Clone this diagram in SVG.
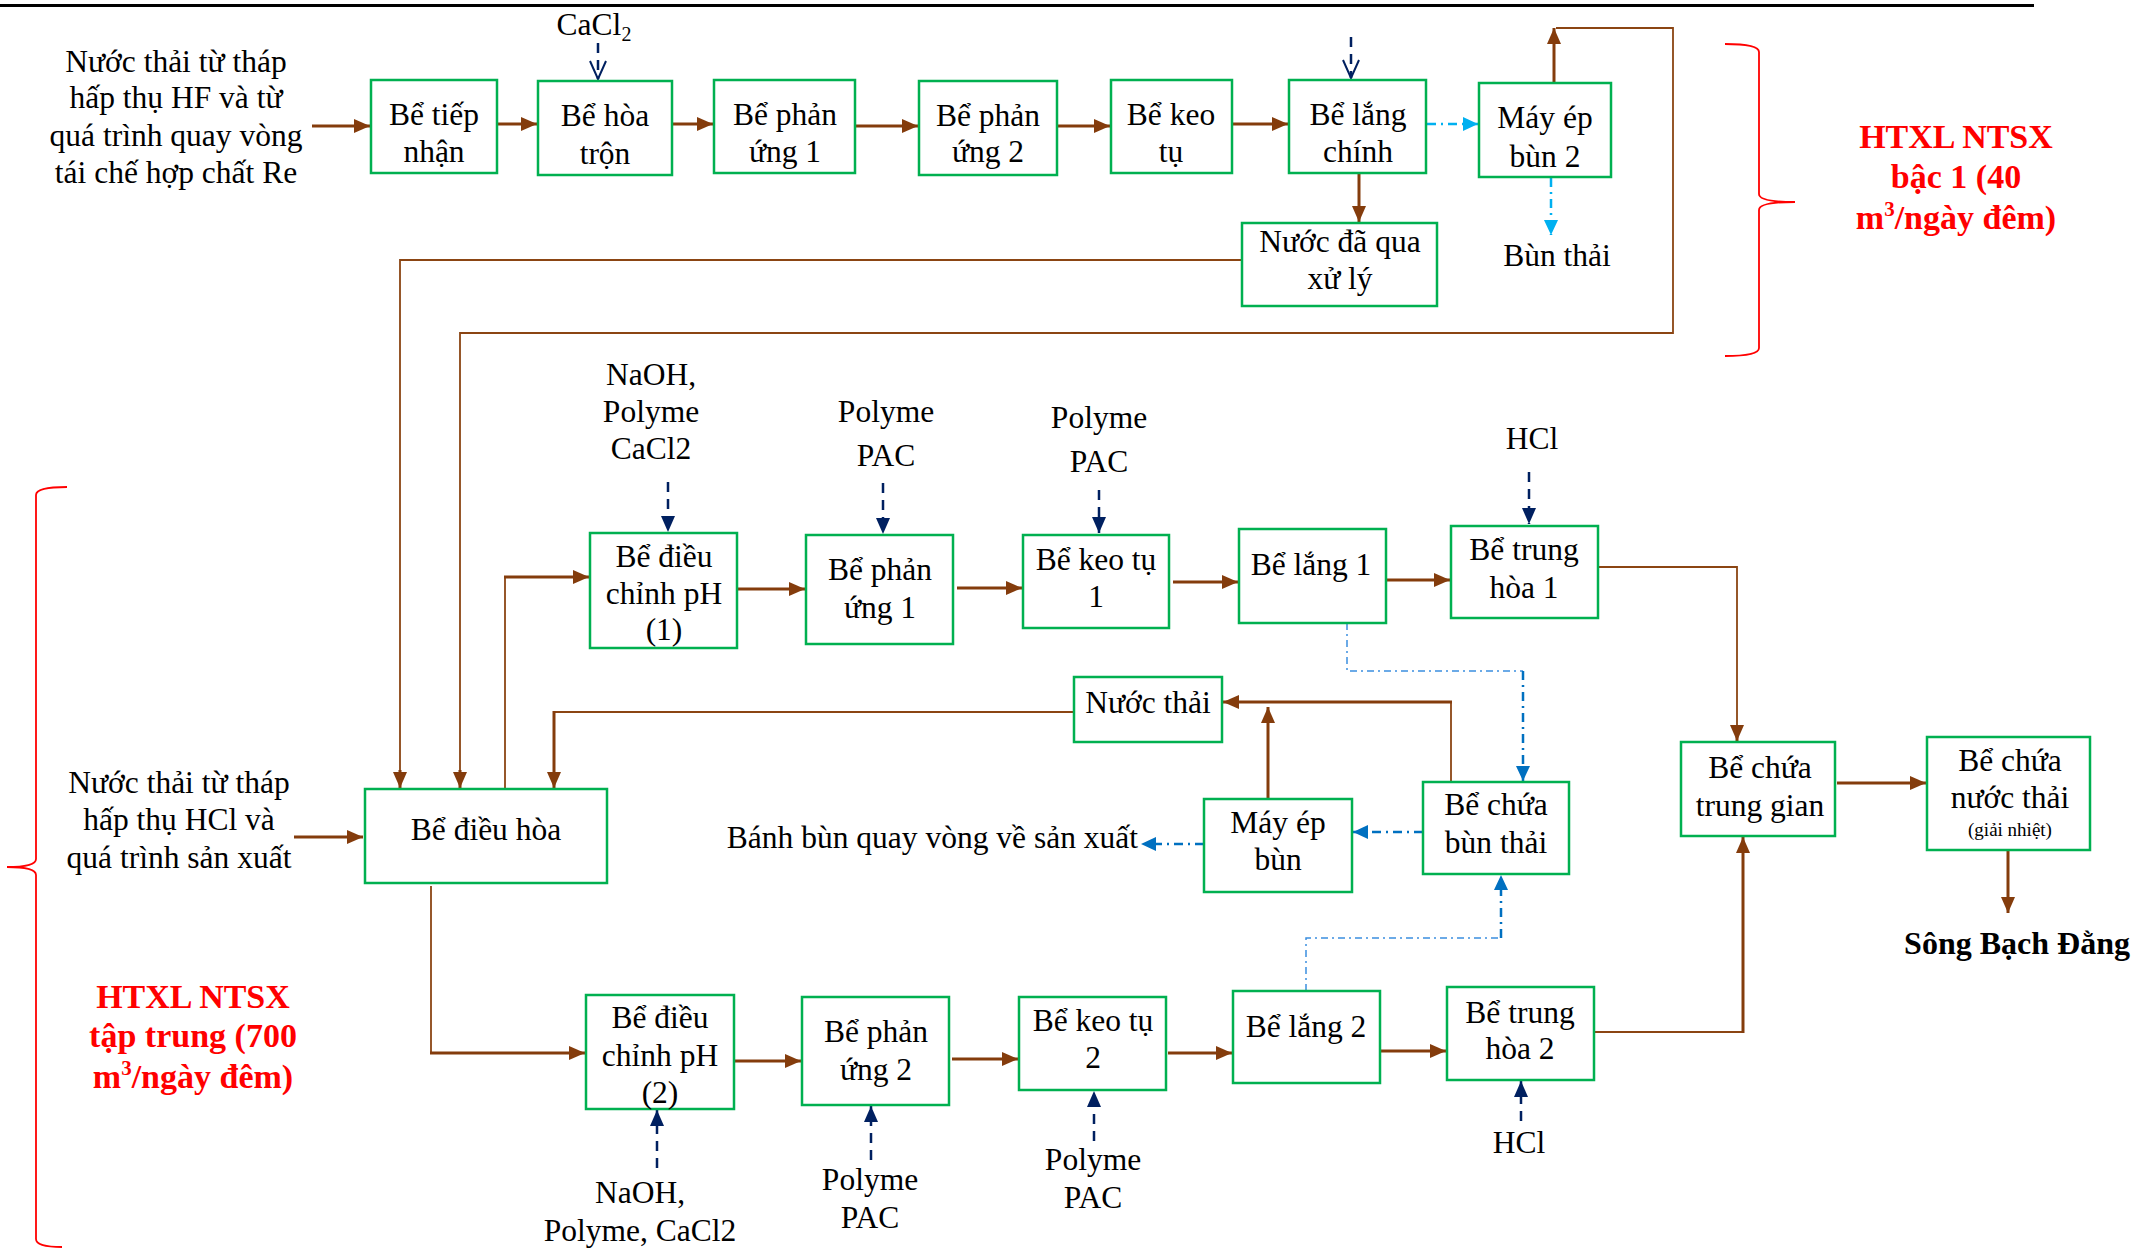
<svg xmlns="http://www.w3.org/2000/svg" width="2134" height="1248" viewBox="0 0 2134 1248">
  <style>
    .box { fill: #fff; stroke: #00B050; stroke-width: 2.5; }
    .t { font-family: "Liberation Serif", "Times New Roman", serif; font-size: 31.5px; text-anchor: middle; fill: #000; }
    .te { font-family: "Liberation Serif", "Times New Roman", serif; font-size: 31.5px; text-anchor: end; fill: #000; }
    .tr { font-family: "Liberation Serif", "Times New Roman", serif; font-size: 34px; font-weight: bold; text-anchor: middle; fill: #FF0000; }
    .tb { font-family: "Liberation Serif", "Times New Roman", serif; font-size: 32px; font-weight: bold; text-anchor: middle; fill: #000; }
    .flow { fill: none; stroke: #843C0C; stroke-width: 3; }
    .pipe { fill: none; stroke: #8B4513; stroke-width: 1.8; }
    .dose { fill: none; stroke: #002060; stroke-width: 2.5; stroke-dasharray: 10 7; }
    .sludge { fill: none; stroke: #00B0F0; stroke-width: 2.5; stroke-dasharray: 9 5 2 5; }
    .sludge2 { fill: none; stroke: #0070C0; stroke-width: 2.5; stroke-dasharray: 9 5 2 5; }
    .sludge3 { fill: none; stroke: #3B8FE0; stroke-width: 1.5; stroke-dasharray: 7 4 2 4; }
    .brace { fill: none; stroke: #FF0000; stroke-width: 1.8; }
  </style>
  <defs>
    <marker id="ab" viewBox="0 0 16 14" refX="16" refY="7" markerWidth="16" markerHeight="14" markerUnits="userSpaceOnUse" orient="auto">
      <path d="M0,0 L16,7 L0,14 z" fill="#843C0C"/>
    </marker>
    <marker id="an" viewBox="0 0 16 14" refX="16" refY="7" markerWidth="16" markerHeight="14" markerUnits="userSpaceOnUse" orient="auto">
      <path d="M0,0 L16,7 L0,14 z" fill="#002060"/>
    </marker>
    <marker id="av" viewBox="0 0 20 18" refX="19" refY="9" markerWidth="20" markerHeight="18" markerUnits="userSpaceOnUse" orient="auto">
      <path d="M1,1 L19,9 L1,17" fill="none" stroke="#002060" stroke-width="2"/>
    </marker>
    <marker id="alb" viewBox="0 0 15 14" refX="15" refY="7" markerWidth="15" markerHeight="14" markerUnits="userSpaceOnUse" orient="auto">
      <path d="M0,0 L15,7 L0,14 z" fill="#00B0F0"/>
    </marker>
    <marker id="abl" viewBox="0 0 15 14" refX="15" refY="7" markerWidth="15" markerHeight="14" markerUnits="userSpaceOnUse" orient="auto">
      <path d="M0,0 L15,7 L0,14 z" fill="#0070C0"/>
    </marker>
  </defs>

  <rect width="2134" height="1248" fill="#fff"/>
  <!-- page rule -->
  <line x1="0" y1="5.5" x2="2034" y2="5.5" stroke="#000" stroke-width="3"/>

  <!-- connectors -->
  <g id="connectors">
    <!-- stage 1 line -->
    <path class="flow" d="M312,126 H370" marker-end="url(#ab)"/>
    <path class="flow" d="M497,124 H537" marker-end="url(#ab)"/>
    <path class="flow" d="M672,124 H713" marker-end="url(#ab)"/>
    <path class="flow" d="M855,126 H918" marker-end="url(#ab)"/>
    <path class="flow" d="M1057,126 H1110" marker-end="url(#ab)"/>
    <path class="flow" d="M1232,124 H1288" marker-end="url(#ab)"/>
    <path class="flow" d="M1359,173 V222" marker-end="url(#ab)"/>
    <path class="flow" d="M1554,83 V28" marker-end="url(#ab)"/>
    <path class="pipe" d="M1556,28 H1673 V333 H460 V786"/>
    <path class="flow" d="M460,770 V788" marker-end="url(#ab)"/>
    <path class="pipe" d="M1242,260 H400 V786"/>
    <path class="flow" d="M400,770 V788" marker-end="url(#ab)"/>

    <!-- dosing (dashed) -->
    <path class="dose" d="M598,43 V79" marker-end="url(#av)"/>
    <path class="dose" d="M1351,37 V78" marker-end="url(#av)"/>
    <path class="dose" d="M668,482 V532" marker-end="url(#an)"/>
    <path class="dose" d="M883,483 V534" marker-end="url(#an)"/>
    <path class="dose" d="M1099,490 V533" stroke-dasharray="2 10 12 6" marker-end="url(#an)"/>
    <path class="dose" d="M1529,472 V524" marker-end="url(#an)"/>
    <path class="dose" d="M657,1168 V1110" marker-end="url(#an)"/>
    <path class="dose" d="M871,1160 V1106" marker-end="url(#an)"/>
    <path class="dose" d="M1094,1141 V1091" marker-end="url(#an)"/>
    <path class="dose" d="M1521,1121 V1081" marker-end="url(#an)"/>

    <!-- sludge lines, stage 1 -->
    <path class="sludge" d="M1427,124 H1478" marker-end="url(#alb)"/>
    <path class="sludge" d="M1551,178 V235" marker-end="url(#alb)"/>

    <!-- equalisation tank inflows/outflows -->
    <path class="flow" d="M294,837 H363" marker-end="url(#ab)"/>
    <path class="pipe" d="M505,789 V577"/>
    <path class="flow" d="M504,577 H589" marker-end="url(#ab)"/>
    <path class="pipe" d="M1074,712 H554"/>
    <path class="flow" d="M554,711 V788" stroke-width="2.2" marker-end="url(#ab)"/>
    <path class="pipe" d="M431,886 V1053"/>
    <path class="flow" d="M430,1053 H585" marker-end="url(#ab)"/>

    <!-- line 1 -->
    <path class="flow" d="M738,589 H805" marker-end="url(#ab)"/>
    <path class="flow" d="M957,588 H1022" marker-end="url(#ab)"/>
    <path class="flow" d="M1173,582 H1238" marker-end="url(#ab)"/>
    <path class="flow" d="M1387,580 H1450" marker-end="url(#ab)"/>
    <path class="pipe" d="M1598,567 H1737 V735"/>
    <path class="flow" d="M1737,725 V741" stroke-width="2.2" marker-end="url(#ab)"/>

    <!-- line 2 -->
    <path class="flow" d="M734,1061 H801" marker-end="url(#ab)"/>
    <path class="flow" d="M952,1059 H1018" marker-end="url(#ab)"/>
    <path class="flow" d="M1168,1053 H1232" marker-end="url(#ab)"/>
    <path class="flow" d="M1381,1051 H1446" marker-end="url(#ab)"/>
    <path class="pipe" d="M1594,1032 H1743"/>
    <path class="flow" d="M1743,1033 V837" marker-end="url(#ab)"/>

    <!-- final discharge -->
    <path class="flow" d="M1837,783 H1926" marker-end="url(#ab)"/>
    <path class="flow" d="M2008,850 V913" marker-end="url(#ab)"/>

    <!-- sludge handling, central plant -->
    <path class="pipe" d="M1451,781 V702"/>
    <path class="flow" d="M1452,702 H1223" marker-end="url(#ab)"/>
    <path class="flow" d="M1268,798 V707" marker-end="url(#ab)"/>
    <path class="sludge2" d="M1423,832 H1353" marker-end="url(#abl)"/>
    <path class="sludge2" d="M1204,844 H1141" marker-end="url(#abl)"/>
    <path class="sludge3" d="M1347,623 V671 H1523"/>
    <path class="sludge2" d="M1523,671 V781" marker-end="url(#abl)"/>
    <path class="sludge3" d="M1306,991 V938 H1501"/>
    <path class="sludge2" d="M1501,938 V875" marker-end="url(#abl)"/>
  </g>

  <!-- stage 1 plant -->
  <g id="in_hf">
    <text class="t"><tspan x="176" y="72">Nước thải từ tháp</tspan><tspan x="176" y="108">hấp thụ HF và từ</tspan><tspan x="176" y="146">quá trình quay vòng</tspan><tspan x="176" y="183">tái chế hợp chất Re</tspan></text>
  </g>
  <g id="n_tiepnhan">
    <rect class="box" x="371" y="80" width="126" height="93"/>
    <text class="t"><tspan x="434" y="125">Bể tiếp</tspan><tspan x="434" y="162">nhận</tspan></text>
  </g>
  <g id="n_hoatron">
    <rect class="box" x="538" y="81" width="134" height="94"/>
    <text class="t"><tspan x="605" y="126">Bể hòa</tspan><tspan x="605" y="164">trộn</tspan></text>
  </g>
  <g id="lbl_cacl2">
    <text class="t" x="594" y="35">CaCl<tspan font-size="20" dy="6">2</tspan></text>
  </g>
  <g id="n_phanung1a">
    <rect class="box" x="714" y="80" width="141" height="93"/>
    <text class="t"><tspan x="785" y="125">Bể phản</tspan><tspan x="785" y="162">ứng 1</tspan></text>
  </g>
  <g id="n_phanung2a">
    <rect class="box" x="919" y="81" width="138" height="94"/>
    <text class="t"><tspan x="988" y="126">Bể phản</tspan><tspan x="988" y="162">ứng 2</tspan></text>
  </g>
  <g id="n_keotu">
    <rect class="box" x="1111" y="80" width="121" height="93"/>
    <text class="t"><tspan x="1171" y="125">Bể keo</tspan><tspan x="1171" y="162">tụ</tspan></text>
  </g>
  <g id="n_langchinh">
    <rect class="box" x="1289" y="80" width="137" height="93"/>
    <text class="t"><tspan x="1358" y="125">Bể lắng</tspan><tspan x="1358" y="162">chính</tspan></text>
  </g>
  <g id="n_mayep2">
    <rect class="box" x="1479" y="83" width="132" height="94"/>
    <text class="t"><tspan x="1545" y="128">Máy ép</tspan><tspan x="1545" y="167">bùn 2</tspan></text>
  </g>
  <g id="lbl_bunthai">
    <text class="t" x="1557" y="266">Bùn thải</text>
  </g>
  <g id="n_nuocdaxl">
    <rect class="box" x="1242" y="223" width="195" height="83"/>
    <text class="t"><tspan x="1340" y="252">Nước đã qua</tspan><tspan x="1340" y="289">xử lý</tspan></text>
  </g>
  <g id="lbl_stage1">
    <path class="brace" d="M1725,44 Q1759,44 1759,52 V194 Q1759,202 1795,202 Q1759,202 1759,210 V348 Q1759,356 1725,356"/>
    <text class="tr"><tspan x="1956" y="148">HTXL NTSX</tspan><tspan x="1956" y="188">bậc 1 (40</tspan><tspan x="1956" y="229">m<tspan font-size="21" dy="-13">3</tspan><tspan dy="13">/ngày đêm)</tspan></tspan></text>
  </g>

  <!-- central plant -->
  <g id="lbl_central">
    <path class="brace" d="M67,487 Q36,487 36,495 V859 Q36,867 7,867 Q36,867 36,875 V1239 Q36,1247 62,1247"/>
    <text class="tr"><tspan x="193" y="1008">HTXL NTSX</tspan><tspan x="193" y="1047">tập trung (700</tspan><tspan x="193" y="1088">m<tspan font-size="21" dy="-13">3</tspan><tspan dy="13">/ngày đêm)</tspan></tspan></text>
  </g>
  <g id="in_hcl">
    <text class="t"><tspan x="179" y="793">Nước thải từ tháp</tspan><tspan x="179" y="830">hấp thụ HCl và</tspan><tspan x="179" y="868">quá trình sản xuất</tspan></text>
  </g>
  <g id="n_dieuhoa">
    <rect class="box" x="365" y="789" width="242" height="94"/>
    <text class="t" x="486" y="840">Bể điều hòa</text>
  </g>

  <g id="lbl_dose_ph1">
    <text class="t"><tspan x="651" y="385">NaOH,</tspan><tspan x="651" y="422">Polyme</tspan><tspan x="651" y="459">CaCl2</tspan></text>
  </g>
  <g id="n_ph1">
    <rect class="box" x="590" y="533" width="147" height="115"/>
    <text class="t"><tspan x="664" y="567">Bể điều</tspan><tspan x="664" y="604">chỉnh pH</tspan><tspan x="664" y="640">(1)</tspan></text>
  </g>
  <g id="lbl_dose_pu1">
    <text class="t"><tspan x="886" y="422">Polyme</tspan><tspan x="886" y="466">PAC</tspan></text>
  </g>
  <g id="n_pu1">
    <rect class="box" x="806" y="535" width="147" height="109"/>
    <text class="t"><tspan x="880" y="580">Bể phản</tspan><tspan x="880" y="618">ứng 1</tspan></text>
  </g>
  <g id="lbl_dose_kt1">
    <text class="t"><tspan x="1099" y="428">Polyme</tspan><tspan x="1099" y="472">PAC</tspan></text>
  </g>
  <g id="n_keotu1">
    <rect class="box" x="1023" y="535" width="146" height="93"/>
    <text class="t"><tspan x="1096" y="570">Bể keo tụ</tspan><tspan x="1096" y="607">1</tspan></text>
  </g>
  <g id="n_lang1">
    <rect class="box" x="1239" y="529" width="147" height="94"/>
    <text class="t" x="1311" y="575">Bể lắng 1</text>
  </g>
  <g id="lbl_hcl1">
    <text class="t" x="1532" y="449">HCl</text>
  </g>
  <g id="n_trunghoa1">
    <rect class="box" x="1451" y="526" width="147" height="92"/>
    <text class="t"><tspan x="1524" y="560">Bể trung</tspan><tspan x="1524" y="598">hòa 1</tspan></text>
  </g>
  <g id="n_nuocthai">
    <rect class="box" x="1074" y="677" width="148" height="65"/>
    <text class="t" x="1148" y="713">Nước thải</text>
  </g>
  <g id="lbl_banhbun">
    <text class="te" x="1138" y="848">Bánh bùn quay vòng về sản xuất</text>
  </g>
  <g id="n_mayep">
    <rect class="box" x="1204" y="799" width="148" height="93"/>
    <text class="t"><tspan x="1278" y="833">Máy ép</tspan><tspan x="1278" y="870">bùn</tspan></text>
  </g>
  <g id="n_chuabun">
    <rect class="box" x="1423" y="782" width="146" height="92"/>
    <text class="t"><tspan x="1496" y="815">Bể chứa</tspan><tspan x="1496" y="853">bùn thải</tspan></text>
  </g>
  <g id="n_trunggian">
    <rect class="box" x="1681" y="742" width="154" height="94"/>
    <text class="t"><tspan x="1760" y="778">Bể chứa</tspan><tspan x="1760" y="816">trung gian</tspan></text>
  </g>
  <g id="n_chuanuoc">
    <rect class="box" x="1927" y="737" width="163" height="113"/>
    <text class="t"><tspan x="2010" y="771">Bể chứa</tspan><tspan x="2010" y="808">nước thải</tspan><tspan x="2010" y="836" font-size="19">(giải nhiệt)</tspan></text>
  </g>
  <g id="lbl_song">
    <text class="tb" x="2017" y="954">Sông Bạch Đằng</text>
  </g>

  <g id="n_ph2">
    <rect class="box" x="586" y="995" width="148" height="114"/>
    <text class="t"><tspan x="660" y="1028">Bể điều</tspan><tspan x="660" y="1066">chỉnh pH</tspan><tspan x="660" y="1103">(2)</tspan></text>
  </g>
  <g id="lbl_dose_ph2">
    <text class="t"><tspan x="640" y="1203">NaOH,</tspan><tspan x="640" y="1241">Polyme, CaCl2</tspan></text>
  </g>
  <g id="n_pu2">
    <rect class="box" x="802" y="997" width="147" height="108"/>
    <text class="t"><tspan x="876" y="1042">Bể phản</tspan><tspan x="876" y="1080">ứng 2</tspan></text>
  </g>
  <g id="lbl_dose_pu2">
    <text class="t"><tspan x="870" y="1190">Polyme</tspan><tspan x="870" y="1228">PAC</tspan></text>
  </g>
  <g id="n_keotu2">
    <rect class="box" x="1019" y="997" width="147" height="93"/>
    <text class="t"><tspan x="1093" y="1031">Bể keo tụ</tspan><tspan x="1093" y="1068">2</tspan></text>
  </g>
  <g id="lbl_dose_kt2">
    <text class="t"><tspan x="1093" y="1170">Polyme</tspan><tspan x="1093" y="1208">PAC</tspan></text>
  </g>
  <g id="n_lang2">
    <rect class="box" x="1233" y="991" width="147" height="92"/>
    <text class="t" x="1306" y="1037">Bể lắng 2</text>
  </g>
  <g id="n_trunghoa2">
    <rect class="box" x="1447" y="987" width="147" height="93"/>
    <text class="t"><tspan x="1520" y="1023">Bể trung</tspan><tspan x="1520" y="1059">hòa 2</tspan></text>
  </g>
  <g id="lbl_hcl2">
    <text class="t" x="1519" y="1153">HCl</text>
  </g>
</svg>
